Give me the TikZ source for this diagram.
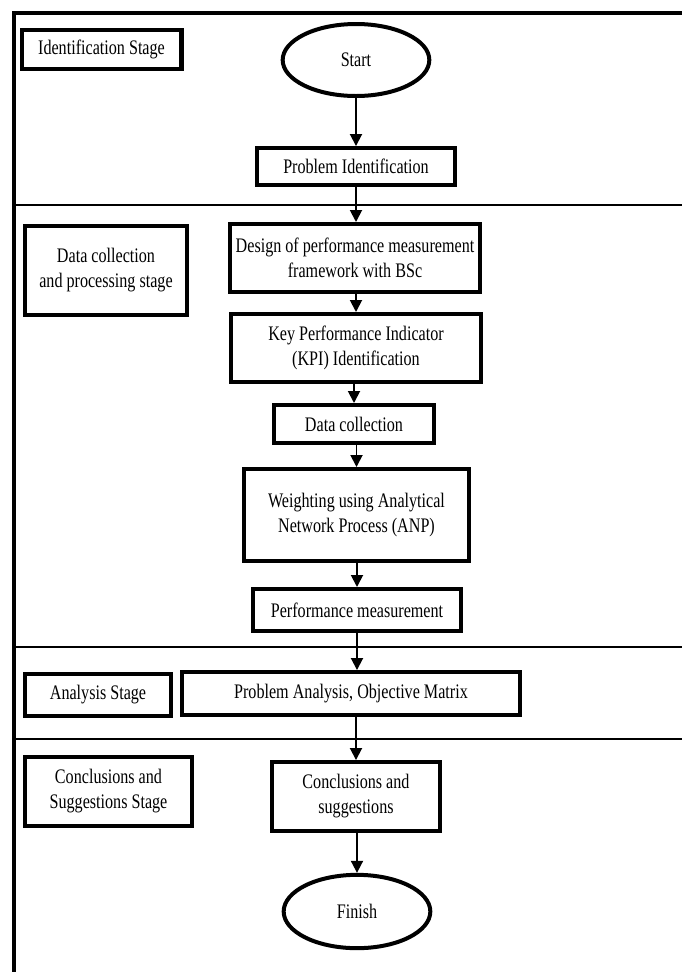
\documentclass[tikz,border=0pt]{standalone}
\usepackage{fontspec}
\setmainfont{Liberation Serif}[FakeStretch=0.78]
\usetikzlibrary{shapes.geometric,arrows.meta}

\begin{document}
\begin{tikzpicture}[x=0.75pt,y=-0.75pt,
	box/.style={draw,line width=3.2pt,align=center,inner sep=2pt,font=\fontsize{15.5}{18.8}\selectfont},
	term/.style={draw,ellipse,line width=3pt,inner sep=0pt,font=\fontsize{15.5}{18.8}\selectfont},
	arr/.style={line width=1.4pt,-{Triangle[width=9pt,length=9pt]}},
	frame/.style={line width=2.4pt},
	sep/.style={line width=1.4pt}]
	\useasboundingbox (0,0) rectangle (682,972);
	% outer frame and stage separators
	\draw[frame] (682,13) -- (14,13) -- (14,972);
	\foreach \y in {205,647,739}{
		\draw[sep] (14,\y) -- (682,\y);
	}

	% stage labels
	\node[box,minimum width=119.8pt,minimum height=29pt] (idstage) at (101.5,49.5) {Identification Stage};
	\node[box,minimum width=121pt,minimum height=66.5pt] (datastage) at (106,270.5) {Data collection\\and processing stage};
	\node[box,minimum width=109.3pt,minimum height=31.3pt] (anastage) at (98,695) {Analysis Stage};
	\node[box,minimum width=125pt,minimum height=51.5pt] (concstage) at (108.5,791.5) {Conclusions and\\Suggestions Stage};

	% flow
	\node[term,minimum width=110pt,minimum height=54pt] (start) at (356,60) {Start};
	\node[box,minimum width=148pt,minimum height=27.5pt] (probid) at (356,166.5) {Problem Identification};
	\node[box,minimum width=188pt,minimum height=50.8pt] (design) at (355,258) {Design of performance measurement\\framework with BSc};
	\node[box,minimum width=187pt,minimum height=50.8pt] (kpi) at (356,348) {Key Performance Indicator\\(KPI) Identification};
	\node[box,minimum width=120pt,minimum height=28.3pt] (datacol) at (354,424) {Data collection};
	\node[box,minimum width=168.5pt,minimum height=68.8pt] (weight) at (356.5,515) {Weighting using Analytical\\Network Process (ANP)};
	\node[box,minimum width=155.8pt,minimum height=31.3pt] (perf) at (357,610) {Performance measurement};
	\node[box,minimum width=253pt,minimum height=32pt] (probana) at (351,693.5) {Problem Analysis, Objective Matrix};
	\node[box,minimum width=125.8pt,minimum height=51.5pt] (conc) at (356,796.5) {Conclusions and\\suggestions};
	\node[term,minimum width=110pt,minimum height=55pt] (finish) at (357,911.5) {Finish};

	\draw[arr] (start) -- (probid);
	\draw[arr] (probid.south) -- (probid.south |- design.north);
	\draw[arr] (design.south -| kpi) -- (kpi);
	\draw[arr] (kpi.south -| datacol) -- (datacol);
	\draw[arr] (datacol.south -| weight) -- (weight);
	\draw[arr] (weight.south -| perf) -- (perf);
	\draw[arr] (perf.south) -- (perf.south |- probana.north);
	\draw[arr] (probana.south -| conc) -- (conc);
	\draw[arr] (conc.south -| finish) -- (finish);
\end{tikzpicture}
\end{document}
